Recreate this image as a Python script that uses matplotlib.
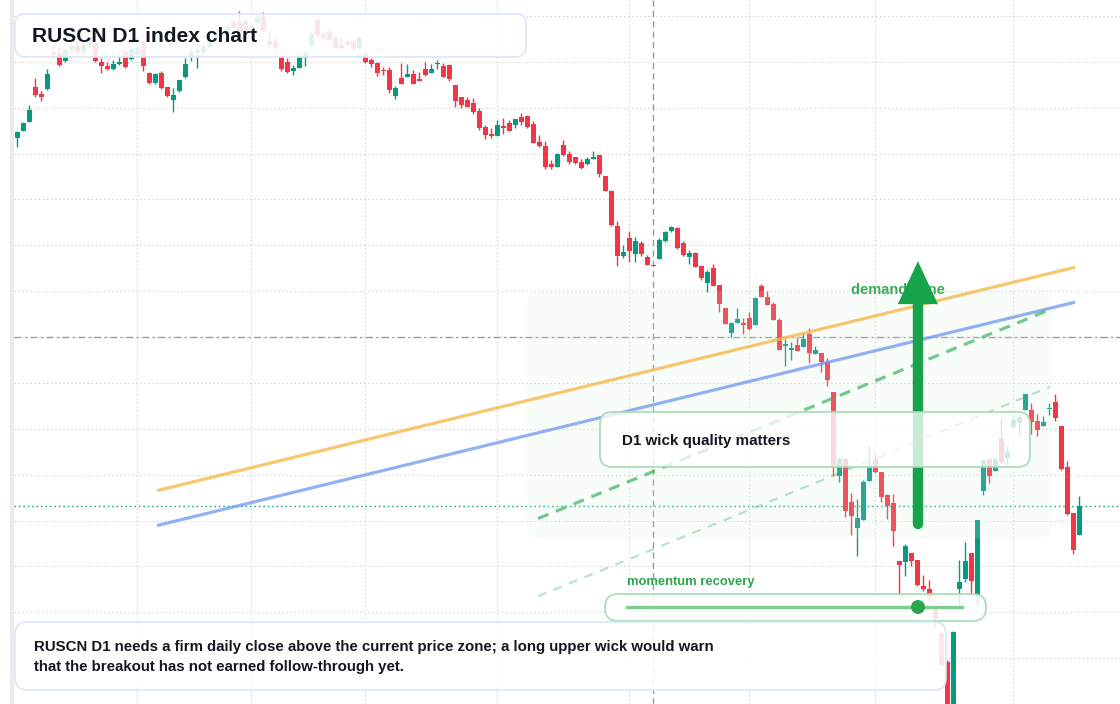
import numpy as np
import matplotlib
matplotlib.use("Agg")
import matplotlib.pyplot as plt
from matplotlib.patches import FancyBboxPatch, Rectangle, Circle
from matplotlib.lines import Line2D

# 日线 OHLC（指数点位，从图上估读）
opens = [1568, 1575, 1584, 1619, 1612, 1617, 1654, 1653, 1645, 1656,
         1660, 1654, 1661, 1663, 1644, 1640, 1637, 1642, 1654, 1647,
         1651, 1664, 1633, 1623, 1633, 1619, 1606, 1615, 1629, 1649,
         1653, 1654, 1659, 1665, 1669, 1674, 1684, 1684, 1685, 1673,
         1683, 1689, 1665, 1664, 1649, 1644, 1635, 1638, 1648, 1661,
         1686, 1671, 1674, 1668, 1661, 1664, 1664, 1658, 1652, 1646,
         1643, 1636, 1636, 1610, 1628, 1629, 1632, 1627, 1637, 1633,
         1641.5, 1640, 1641, 1621, 1609, 1606, 1603, 1595, 1579, 1572,
         1570, 1579, 1583, 1581, 1589, 1590, 1582, 1564, 1560, 1542,
         1539, 1561, 1552, 1549, 1544, 1542, 1547, 1551, 1529, 1514,
         1479, 1449, 1467, 1451, 1462, 1448, 1440, 1446, 1464, 1474,
         1477, 1462, 1448, 1452, 1439, 1422, 1437, 1420, 1397, 1372,
         1382, 1382, 1387, 1380, 1419, 1408, 1401, 1385, 1359, 1355,
         1360, 1358, 1371, 1351, 1352, 1343, 1313, 1229, 1246, 1203,
         1176, 1185, 1224, 1246, 1233, 1210, 1202, 1143, 1142, 1151,
         1144, 1118, 1115, 1095, 1071, 1042, 991, 1115, 1125, 1151,
         1109, 1214, 1246, 1234, 1267, 1247, 1278, 1282, 1295, 1295,
         1284, 1279, 1295.5, 1303, 1279, 1238, 1192, 1169]
highs = [1575, 1584, 1601, 1628, 1615, 1637, 1661, 1659, 1658, 1664,
         1666, 1665, 1668, 1665, 1648, 1644, 1646, 1653, 1656, 1659,
         1661, 1666, 1634, 1633, 1635, 1619, 1618, 1626, 1648, 1657,
         1658, 1663, 1668, 1673, 1678, 1682, 1687, 1695, 1687, 1683,
         1691, 1694, 1674, 1668, 1652, 1648, 1641, 1653, 1656, 1674,
         1688, 1675, 1677, 1670, 1668, 1666, 1667, 1670, 1654, 1648,
         1644, 1639, 1639, 1620, 1643, 1642, 1636, 1634, 1644, 1642,
         1646, 1643, 1642, 1621, 1609, 1609, 1608, 1598, 1581, 1578,
         1586, 1588, 1586, 1587, 1593, 1591, 1585, 1571, 1565, 1546,
         1553, 1566, 1555, 1549, 1547, 1549, 1555, 1551, 1529, 1515,
         1484, 1460, 1474, 1468, 1464, 1450, 1440, 1467, 1474, 1479,
         1478, 1464, 1455, 1453, 1439, 1435, 1441, 1420, 1397, 1383,
         1397, 1387, 1393, 1408, 1421, 1414, 1403, 1387, 1366, 1363,
         1367, 1372, 1377, 1359, 1352, 1347, 1313, 1248, 1247, 1212,
         1206, 1225, 1259, 1253, 1233, 1211, 1211, 1143, 1160, 1151,
         1144, 1129, 1124, 1095, 1073, 1044, 1073, 1144, 1162, 1151,
         1185, 1245, 1247, 1247, 1287, 1259, 1291, 1289, 1311, 1302,
         1291, 1289, 1302, 1311, 1279, 1244, 1192, 1209]
lows = [1559, 1575, 1584, 1609, 1605, 1616, 1649, 1640, 1644, 1654,
        1651, 1652, 1658, 1644, 1633, 1636, 1636, 1641, 1638, 1646,
        1650, 1635, 1622, 1622, 1617, 1609, 1594, 1614, 1628, 1645,
        1638, 1653, 1658, 1663, 1666, 1671, 1676, 1673, 1672, 1672,
        1682, 1674, 1658, 1656, 1635, 1633, 1631, 1638, 1640, 1660,
        1670, 1665, 1665, 1658, 1656, 1660, 1656, 1657, 1643, 1639,
        1630, 1631, 1613, 1607, 1622, 1629, 1622, 1625, 1630, 1633,
        1637, 1629, 1625, 1599, 1598, 1599, 1592, 1576, 1567, 1568,
        1570, 1572, 1575, 1578, 1581, 1578, 1563, 1559, 1537, 1537,
        1539, 1550, 1542, 1542, 1537, 1541, 1547, 1528, 1514, 1479,
        1439, 1447, 1443, 1443, 1449, 1440, 1439, 1446, 1463, 1473,
        1456, 1449, 1441, 1438, 1425, 1413, 1419, 1393, 1381, 1368,
        1382, 1371, 1375, 1380, 1408, 1400, 1385, 1355, 1339, 1345,
        1354, 1358, 1342, 1351, 1333, 1319, 1229, 1223, 1188, 1169,
        1148, 1185, 1224, 1232, 1203, 1186, 1158, 1108, 1128, 1138,
        1118, 1113, 1103, 1076, 1038, 976, 981, 1096, 1122, 1109,
        1099, 1210, 1222, 1234, 1242, 1239, 1277, 1270, 1295, 1271,
        1269, 1279, 1290, 1284, 1235, 1190, 1150, 1169]
closes = [1574, 1583, 1596, 1611, 1609, 1632, 1651, 1641, 1656, 1660,
          1654, 1661, 1664, 1645, 1640, 1637, 1642, 1644, 1639, 1657,
          1658, 1640, 1623, 1632, 1618, 1610, 1611, 1626, 1642, 1654,
          1656, 1660, 1666, 1670, 1675, 1679, 1678, 1674, 1674, 1680,
          1688, 1675, 1661, 1659, 1637, 1634, 1638, 1650, 1653, 1672,
          1671, 1668, 1666, 1658, 1658, 1661, 1657, 1668, 1644, 1642,
          1633, 1635, 1616, 1618, 1622, 1632, 1622, 1625, 1631, 1637,
          1642, 1629, 1627, 1605, 1601, 1599, 1594, 1578, 1571, 1570,
          1581, 1578, 1575, 1587, 1584, 1579, 1563, 1560, 1539, 1539,
          1552, 1551, 1544, 1543, 1538, 1547, 1548, 1532, 1514, 1480,
          1449, 1453, 1454, 1464, 1451, 1440, 1439.5, 1465, 1473, 1478,
          1457, 1450, 1452, 1438, 1427, 1433, 1419, 1401, 1381, 1382,
          1386, 1380, 1376, 1407, 1408, 1400, 1385, 1355, 1361, 1357,
          1354, 1366, 1352, 1355, 1343, 1325, 1239, 1246, 1194, 1189,
          1187, 1223, 1239, 1233, 1208, 1199, 1173, 1139, 1158, 1143,
          1119, 1115, 1107, 1085, 1039, 986, 1072, 1122, 1143, 1123,
          1185, 1245, 1229, 1246, 1243, 1253, 1285, 1288, 1311, 1283,
          1275, 1283, 1296, 1287, 1236, 1191, 1154, 1199]

# 月初位置（K线序号），用作竖向网格
month_starts = [20, 39, 58, 80, 102, 122, 143, 166]
# 十字光标
cross_idx = 106
cross_price = 1368
# 趋势线 (起点序号, 终点序号), (起点价, 终点价)
orange_x, orange_y = [23.3, 176.3], [1214, 1438]
blue_x, blue_y = [23.3, 176.3], [1179, 1403]
green_x, green_y = [86.8, 171.5], [1186, 1394]
green2_x, green2_y = [86.8, 172.1], [1108, 1318]
# 需求区
zone_x = [85.0, 172.4]
zone_p = [1166, 1414]
# 箭头
arrow_idx = 150.1
arrow_from, arrow_to = 1181, 1444

UP = '#089981'
DOWN = '#f23645'
INK = '#131722'
W, H = 1120, 704

plt.rcParams['font.family'] = ['Liberation Sans', 'DejaVu Sans']

fig = plt.figure(figsize=(W / 100, H / 100), dpi=100)
fig.patch.set_facecolor('white')
ax = fig.add_axes([14 / W, 0, (W - 14) / W, 1])
ax.set_facecolor('white')

n = len(closes)
x = np.arange(n)
o = np.array(opens, float)
c = np.array(closes, float)
hi = np.array(highs, float)
lo = np.array(lows, float)
cols = np.where(c >= o, UP, DOWN)

ax.set_xlim((14 - 17.3) / 6, (W - 17.3) / 6)
ax.set_ylim(1002, 1706)

# 网格
ax.set_yticks(np.arange(1000, 1701, 46))
ax.set_xticks(month_starts)
ax.grid(True, color='#cfcfcf', linestyle=(0, (1.3, 2.6)), linewidth=0.75, zorder=0)
ax.tick_params(length=0, labelleft=False, labelbottom=False)
for s in ax.spines.values():
    s.set_visible(False)
ax.set_axisbelow(True)

# K线
ax.vlines(x, lo, hi, colors=cols, linewidth=1.0, zorder=2)
body_bot = np.minimum(o, c)
body_h = np.maximum(np.abs(c - o), 1.2)
ax.bar(x, body_h, bottom=body_bot, width=0.8, color=cols, linewidth=0, zorder=2)

# 十字光标和最新价
ax.axhline(cross_price, color='#9a9a9a', lw=1.0, ls=(0, (5, 2.5, 1.5, 2.5)), zorder=1.5)
ax.axvline(cross_idx, color='#9a9a9a', lw=1.0, ls=(0, (4.5, 3)), zorder=1.5)
ax.axhline(closes[-1], color=UP, lw=1.0, ls=(0, (1, 2.2)), zorder=1.5)

# 需求区
zone = FancyBboxPatch((zone_x[0], zone_p[0]), zone_x[1] - zone_x[0], zone_p[1] - zone_p[0],
                      boxstyle='round,pad=0,rounding_size=2', mutation_aspect=6,
                      facecolor='#dcf4e2', alpha=0.16, edgecolor='none', zorder=3)
ax.add_patch(zone)

# 趋势线
ax.plot(orange_x, orange_y, color='#f5b94a', alpha=0.8, lw=2.3, solid_capstyle='butt', zorder=4)
ax.plot(blue_x, blue_y, color='#6d97f0', alpha=0.75, lw=2.3, solid_capstyle='butt', zorder=4)
ax.plot(green_x, green_y, color='#3cb061', alpha=0.7, lw=2.3, ls=(0, (3.5, 2.5)), zorder=4)
ax.plot(green2_x, green2_y, color='#3cb061', alpha=0.35, lw=1.6, ls=(0, (4, 3.5)), zorder=4)

ax.text((851 - 17.3) / 6, zone_p[1] + 1, 'demand zone', color='#3aaa58', fontsize=10.5,
        fontweight='bold', va='center', ha='left', zorder=5)

# 箭头
ax.plot([arrow_idx, arrow_idx], [arrow_from, arrow_to - 40], color='#16a34a', lw=7.5,
        solid_capstyle='round', zorder=6)
ax.fill([arrow_idx - 3.35, arrow_idx + 3.35, arrow_idx], [arrow_to - 43, arrow_to - 43, arrow_to],
        color='#16a34a', lw=0, zorder=6)


def rbox(x0, y0, x1, y1, edge, alpha, z, r=10, lw=1.2):
    p = FancyBboxPatch((x0 / 100, (H - y1) / 100), (x1 - x0) / 100, (y1 - y0) / 100,
                       boxstyle='round,pad=0,rounding_size=%f' % (r / 100),
                       transform=fig.dpi_scale_trans, facecolor=(1, 1, 1, alpha),
                       edgecolor=edge, linewidth=lw, zorder=z)
    fig.add_artist(p)


def ftext(x0, y0, s, **kw):
    fig.text(x0 / W, 1 - y0 / H, s, va='center', ha='left', **kw)


# 左侧灰条
fig.add_artist(Rectangle((10 / 100, 0), 4 / 100, H / 100, transform=fig.dpi_scale_trans,
                         facecolor='#ebebeb', edgecolor='none', zorder=5))

# 标题
rbox(15, 14, 526, 57, '#dbe6f8', 0.88, 10)
ftext(32, 36, 'RUSCN D1 index chart', fontsize=15.1, fontweight='bold', color=INK, zorder=11)

# 说明框
rbox(600, 412, 1030, 467, '#a6dbb3', 0.78, 10, r=12)
ftext(622, 441, 'D1 wick quality matters', fontsize=10.9, fontweight='bold', color=INK, zorder=11)

# 动量
rbox(605, 594, 986, 621, '#a6dbb3', 0.85, 10, r=13)
ftext(627, 582, 'momentum recovery', fontsize=9.4, fontweight='bold', color='#2ea44f', zorder=11)
fig.add_artist(Line2D([627 / 100, 962 / 100], [(H - 607) / 100] * 2, transform=fig.dpi_scale_trans,
                      color='#7ccf8f', lw=2.4, zorder=11))
fig.add_artist(Circle((918 / 100, (H - 607) / 100), 0.07, transform=fig.dpi_scale_trans,
                      facecolor='#2ea44f', edgecolor='none', zorder=12))

# 底部注释
rbox(15, 622, 946, 690, '#dbe6f8', 0.88, 10, r=12)
ftext(34, 647, 'RUSCN D1 needs a firm daily close above the current price zone; a long upper wick would warn',
      fontsize=10.8, fontweight='bold', color=INK, zorder=11)
ftext(34, 667, 'that the breakout has not earned follow-through yet.',
      fontsize=10.8, fontweight='bold', color=INK, zorder=11)

fig.savefig('out.png', dpi=100)
